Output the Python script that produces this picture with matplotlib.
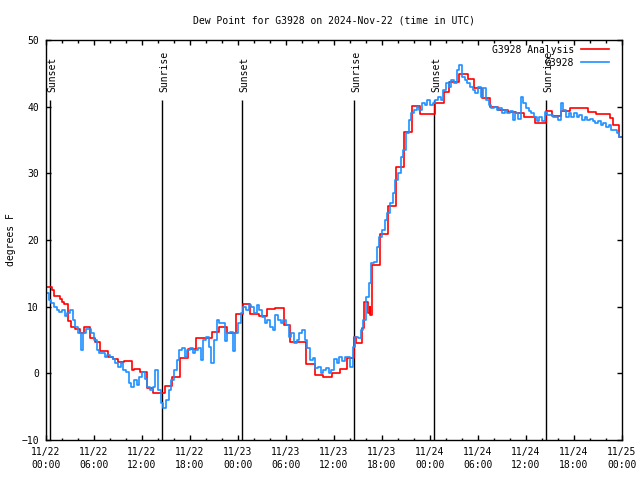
import matplotlib
matplotlib.use('Agg')
from matplotlib import pyplot as plt
import numpy as np

# analysis (red) : step changes, hours since 11/22 00:00 UTC
red_hours = [0.0, 0.7, 1.05, 1.75, 2.0, 2.2, 2.7, 3.1, 3.6, 4.25, 4.8, 5.5, 6.1, 6.75,
             7.8, 8.4, 9.0, 9.7, 10.7, 11.0, 11.75, 12.6, 13.4, 14.9, 15.7, 16.75, 17.7,
             18.75, 20.7, 21.67, 22.67, 23.7, 24.67, 25.5, 26.6, 27.67, 28.6, 29.8, 30.5,
             32.5, 33.6, 34.6, 35.7, 36.7, 37.6, 38.5, 38.7, 39.45, 39.75, 40.3, 40.45,
             40.55, 40.7, 41.75, 42.7, 43.7, 44.75, 45.7, 46.7, 48.6, 49.7, 50.4, 51.6,
             52.7, 53.5, 54.5, 55.5, 56.5, 57.8, 58.8, 59.7, 61.1, 62.5, 63.3, 64.4, 65.5,
             67.8, 68.8, 70.5, 70.9, 71.6, 72.0]
red_vals = [13.0, 12.5, 11.6, 11.1, 10.75, 10.4, 7.9, 7.0, 6.6, 6.1, 6.9, 5.3, 4.75, 3.3,
            2.4, 2.1, 1.75, 1.85, 0.5, 0.65, 0.15, -2.25, -3.0, -1.85, -0.6, 2.25, 3.6,
            5.25, 6.15, 7.0, 6.0, 8.9, 10.4, 8.85, 8.6, 9.65, 9.75, 7.25, 4.65,
            1.4, -0.25, -0.6, 0.1, 0.6, 2.25, 5.5, 4.6, 6.75, 10.75, 9.0, 10.0,
            8.8, 16.25, 20.85, 25.1, 31.0, 36.15, 40.1, 38.9, 40.6, 42.25, 43.75, 44.9,
            44.15, 42.75, 41.25, 39.9, 39.5, 39.25, 39.1, 38.5, 37.6, 39.35, 38.65, 39.4, 39.75,
            39.25, 38.85, 38.35, 37.25, 35.5, 35.5]

# station obs (blue) : one value every 20 minutes
blue_vals = [12.0, 11.0, 10.5, 10.0, 9.5, 9.2, 9.5, 8.6, 9.0, 9.5, 8.0, 7.0,
             6.0, 3.5, 6.0, 6.7, 6.6, 6.0, 5.0, 3.5, 3.0, 3.0, 2.5, 2.8,
             2.5, 2.2, 1.5, 1.0, 1.5, 0.5, 0.2, -1.5, -2.0, -1.0, -1.8, -0.5,
             0.2, -0.8, -2.0, -2.5, -2.0, 0.5, -2.5, -4.5, -5.2, -4.0, -2.5, -1.0,
             0.5, 2.0, 3.5, 3.8, 2.5, 3.5, 3.8, 3.0, 3.5, 3.8, 2.0, 5.0,
             5.5, 4.0, 1.5, 5.0, 8.0, 7.5, 7.5, 4.8, 6.0, 6.2, 3.3, 6.0,
             7.5, 9.0, 10.0, 9.5, 10.3, 10.0, 9.0, 10.2, 9.5, 8.5, 7.5, 8.0,
             7.0, 6.5, 8.7, 8.0, 7.5, 8.0, 7.25, 5.5, 6.0, 4.5, 5.0, 6.0,
             6.5, 5.0, 3.8, 2.0, 2.3, 0.8, 1.0, 0.0, 0.5, 0.75, 0.0, 0.5,
             2.2, 1.5, 2.5, 1.8, 2.5, 2.5, 1.0, 4.0, 5.5, 5.3, 6.5, 8.0,
             11.5, 13.5, 16.5, 16.7, 19.0, 20.5, 21.5, 23.0, 24.0, 25.5, 27.0, 29.0,
             30.0, 32.5, 33.5, 36.0, 38.0, 39.0, 39.5, 40.0, 39.5, 40.5, 40.2, 41.0,
             40.3, 40.5, 41.0, 41.5, 41.0, 42.5, 43.5, 43.0, 44.0, 43.5, 45.5, 46.3,
             44.5, 44.0, 43.5, 43.0, 42.5, 42.0, 43.0, 41.5, 42.8, 41.0, 40.3, 39.8,
             40.0, 39.5, 39.8, 39.0, 39.5, 39.0, 39.3, 38.0, 39.0, 38.2, 41.5, 40.5,
             39.8, 39.3, 39.0, 38.5, 37.8, 38.5, 37.8, 39.2, 38.8, 38.8, 38.5, 38.5,
             38.0, 40.5, 39.5, 38.5, 39.0, 38.5, 39.0, 38.5, 38.7, 38.0, 38.5, 38.0,
             38.2, 37.8, 37.5, 37.8, 37.3, 37.5, 37.0, 37.2, 36.5, 36.5, 36.0, 35.5]
blue_hours = [i / 3 for i in range(len(blue_vals))] + [72.0]
blue_vals = blue_vals + [blue_vals[-1]]

sun_hours = [0.5, 14.5, 24.5, 38.5, 48.5, 62.5]
sun_labels = ['Sunset', 'Sunrise', 'Sunset', 'Sunrise', 'Sunset', 'Sunrise']

tick_hours = [0, 6, 12, 18, 24, 30, 36, 42, 48, 54, 60, 66, 72]
tick_labels = ['11/22\n00:00', '11/22\n06:00', '11/22\n12:00', '11/22\n18:00',
               '11/23\n00:00', '11/23\n06:00', '11/23\n12:00', '11/23\n18:00',
               '11/24\n00:00', '11/24\n06:00', '11/24\n12:00', '11/24\n18:00',
               '11/25\n00:00']

plt.rcParams['font.family'] = 'DejaVu Sans Mono'
plt.rcParams['font.size'] = 7

fig = plt.figure(figsize=(6.4, 4.8), dpi=100)
ax = fig.add_axes([46 / 640, 40 / 480, 576 / 640, 400 / 480])

for h, lab in zip(sun_hours, sun_labels):
    ax.vlines(h, -10, 41, color='black', lw=1.0)
    ax.text(h + 0.25, 42.2, lab, rotation=90, ha='center', va='bottom', fontsize=7)

ax.step(red_hours, red_vals, where='post', color='#ff0000', lw=1.2, label='G3928 Analysis')
ax.step(blue_hours, blue_vals, where='post', color='#1e90ff', lw=1.2, label='G3928')

ax.set_xlim(0, 72)
ax.set_ylim(-10, 50)
ax.set_xticks(tick_hours)
ax.set_xticklabels(tick_labels, linespacing=1.4)
ax.set_xticks(np.arange(0, 73, 2), minor=True)
ax.set_yticks([-10, 0, 10, 20, 30, 40, 50])
ax.tick_params(which='both', direction='in', top=True, right=True, width=1)
ax.tick_params(which='major', length=3.5, pad=5)
ax.tick_params(which='minor', length=1.8)
for s in ax.spines.values():
    s.set_linewidth(1)

ax.set_ylabel('degrees F', labelpad=4, fontsize=7)
ax.set_title('Dew Point for G3928 on 2024-Nov-22 (time in UTC)', pad=12, fontsize=7)
ax.legend(loc='upper right', bbox_to_anchor=(1 - 8 / 576, 1), frameon=False,
          markerfirst=False, handlelength=2.9, handletextpad=0.7, labelspacing=0.3,
          borderaxespad=0.3, borderpad=0.2)

fig.savefig('out.png', dpi=100)
